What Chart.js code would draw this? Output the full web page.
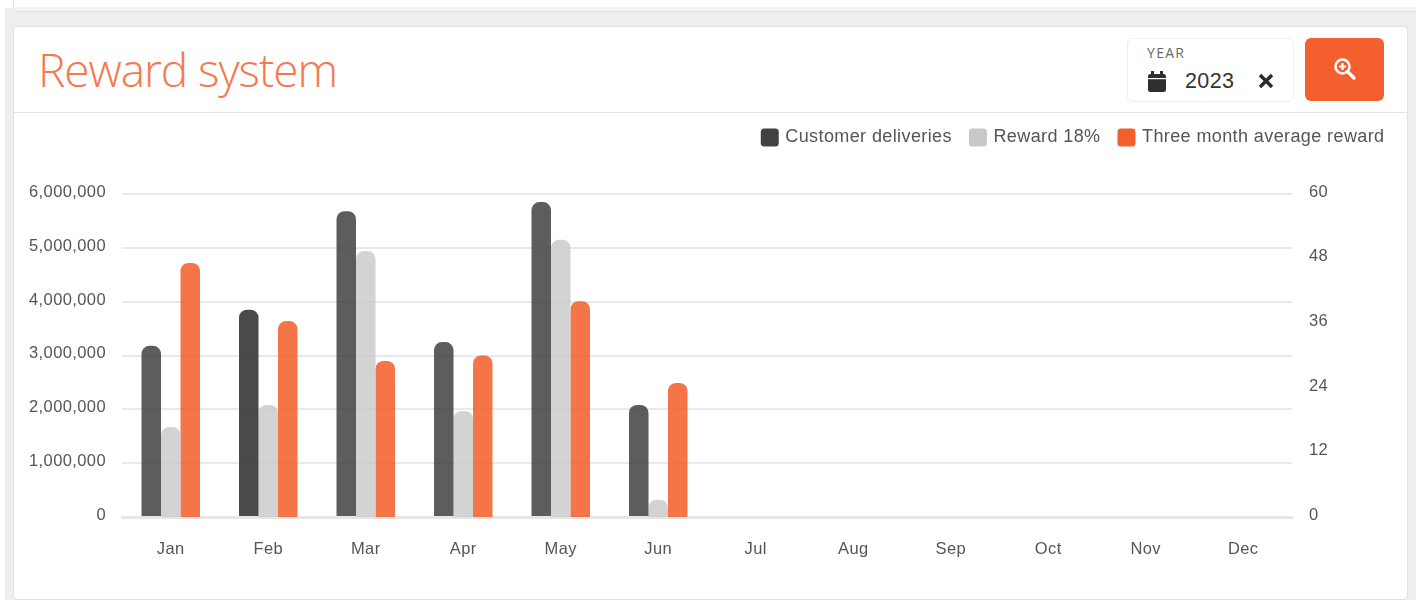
<!DOCTYPE html>
<html><head><meta charset="utf-8">
<script src="https://cdn.jsdelivr.net/npm/chart.js@4"></script>
<style>
html,body{margin:0;padding:0;width:1416px;height:600px;overflow:hidden;background:#fff}
#bg{position:absolute;left:5px;top:8px;width:1411px;height:592px;background:#eee}
.card{position:absolute;background:#fff;box-shadow:0 0 0 1px #e2e2e2;border-radius:3px}
#top{left:14px;top:-10px;width:1412px;height:21px;background:linear-gradient(#fff 17px,#f4f4f4 17px)}
#main{left:14px;top:27px;width:1393px;height:572px}
#hr{position:absolute;left:14px;top:112px;width:1393px;height:1px;background:#e4e4e4}
h1{position:absolute;margin:0;left:38px;top:37px;font:300 46px/64px "Open Sans",sans-serif;letter-spacing:-1.05px;color:#f7784f;white-space:nowrap}
#year{position:absolute;left:1127px;top:38px;width:165px;height:62px;border:1px solid #eee;border-radius:6px;background:#fff}
#ylabel{position:absolute;left:1147px;top:45px;font:14px/15px "Open Sans",sans-serif;letter-spacing:1.3px;color:#666}
#yval{position:absolute;left:1185px;top:68px;font:21.5px/26px "Liberation Sans",sans-serif;letter-spacing:.4px;color:#333}
#btn{position:absolute;left:1305px;top:38px;width:79px;height:63px;background:#f4602d;border-radius:6px}
svg{position:absolute}
canvas{position:absolute;left:14px;top:109px}
</style></head><body>
<div id="bg"></div><div class="card" id="top"></div><div class="card" id="main"></div><div id="hr"></div>
<h1>Reward system</h1>
<div id="year"></div><div id="ylabel">YEAR</div><div id="yval">2023</div>
<svg style="left:1147px;top:71px" width="20" height="21" viewBox="0 0 20 21"><rect x="1" y="3" width="18" height="18" rx="2.5" fill="#2f2f2f"/><rect x="4" y="0" width="3" height="5" fill="#2f2f2f"/><rect x="13" y="0" width="3" height="5" fill="#2f2f2f"/><rect x="1" y="7" width="18" height="1.2" fill="#fff"/></svg>
<svg style="left:1258px;top:73px" width="16" height="16" viewBox="0 0 16 16"><path d="M2 2L14 14M14 2L2 14" stroke="#2a2a2a" stroke-width="3.4"/></svg>
<div id="btn"></div>
<svg style="left:1333px;top:57px" width="23" height="23" viewBox="0 0 23 23"><circle cx="9.5" cy="9.5" r="7" fill="none" stroke="#fff" stroke-width="2.6"/><path d="M15 15L21 21" stroke="#fff" stroke-width="3.2" stroke-linecap="round"/><path d="M6 9.5H13M9.5 6V13" stroke="#fff" stroke-width="2.2"/></svg>
<canvas id="c" width="1393" height="489" style="width:1393px;height:489px"></canvas>
<script>
const months = ['Jan','Feb','Mar','Apr','May','Jun','Jul','Aug','Sep','Oct','Nov','Dec'];
const customerDeliveries = [3180000,3850000,5680000,3250000,5850000,2080000];
const reward18 = [16.7,20.8,49.4,19.7,51.5,3.2];
const threeMonthAverage = [47.2,36.4,29,30,40.1,24.9];
const seriesNames = ['Customer deliveries','Reward 18%','Three month average reward'];
const legendColors = ['#424242','#c8c8c8','#f4602d'];
const customerFill = ['rgba(52,52,52,.8)','rgba(52,52,52,.89)','rgba(52,52,52,.8)','rgba(52,52,52,.8)','rgba(52,52,52,.8)','rgba(52,52,52,.8)'];
const textColor = '#555';
const fontFamily = '"Liberation Sans",Arial,sans-serif';
const setSpacing = c => { c.ctx.letterSpacing = '0.4px'; };
const bar = { categoryPercentage:.6, barPercentage:1, borderRadius:8, borderSkipped:'bottom' };
new Chart(document.getElementById('c'), {
  type:'bar',
  data:{ labels:months, datasets:[
    {label:seriesNames[0],data:customerDeliveries,yAxisID:'y',backgroundColor:customerFill,...bar},
    {label:seriesNames[1],data:reward18,yAxisID:'y2',backgroundColor:'rgba(200,200,200,.8)',...bar},
    {label:seriesNames[2],data:threeMonthAverage,yAxisID:'y2',backgroundColor:'rgba(244,96,45,.87)',...bar}
  ]},
  plugins:[{
    id:'fitAndSpacing',
    beforeInit(chart){ const f=chart.legend.fit; chart.legend.fit=function(){ f.call(this); this.height=85; }; },
    beforeUpdate:setSpacing, beforeLayout:setSpacing, beforeDraw:setSpacing
  }],
  options:{
    responsive:false, animation:false, devicePixelRatio:1,
    layout:{padding:{left:14,right:3,top:0,bottom:0}},
    plugins:{
      tooltip:{enabled:false},
      legend:{ position:'top', align:'end',
        labels:{ boxWidth:13, boxHeight:13, padding:19.5, useBorderRadius:true, borderRadius:1,
          color:textColor, font:{family:fontFamily,size:18},
          generateLabels:()=>seriesNames.map((t,i)=>({text:t,fillStyle:legendColors[i],strokeStyle:legendColors[i],lineWidth:5,fontColor:textColor,borderRadius:1,datasetIndex:i}))
        }
      }
    },
    scales:{
      x:{ grid:{display:false}, border:{color:'#e6e6e6',width:3},
        afterFit(s){ s.height=81; },
        ticks:{ padding:15, color:textColor, font:{family:fontFamily,size:16.5} } },
      y:{ position:'left', min:0, max:6000000, afterFit(s){ s.width=94; },
        grid:{color:'#e9e9e9',lineWidth:2,drawTicks:false}, border:{display:false},
        ticks:{ stepSize:1000000, padding:16, color:textColor,
          font:{family:fontFamily,size:16.5,lineHeight:.2},
          callback:v=>[v.toLocaleString('en-US'),''] } },
      y2:{ position:'right', min:0, max:60, afterFit(s){ s.width=112; },
        grid:{display:false,drawTicks:false}, border:{display:false},
        ticks:{ stepSize:12, padding:17, color:textColor,
          font:{family:fontFamily,size:16.5,lineHeight:.2},
          callback:v=>[String(v),''] } }
    }
  }
});
</script>
</body></html>
